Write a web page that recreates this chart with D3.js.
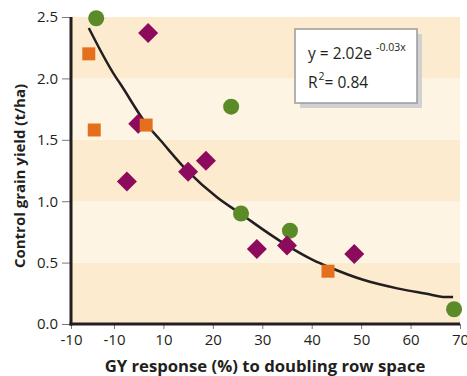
<!DOCTYPE html>
<html>
<head>
<meta charset="utf-8">
<script src="https://cdn.jsdelivr.net/npm/d3@7"></script>
<style>
body { margin: 0; background: #fff; }
svg text { font-family: "Open Sans", "Noto Sans", sans-serif; fill: #231f20; }
.tick-label { font-size: 15px; }
.axis-title { font-weight: bold; }
.eq { font-size: 15.5px; }
</style>
</head>
<body>
<div id="chart"></div>
<script>
// series
var green_x = [-3.6, 23.7, 25.7, 35.6, 68.8],
	green_y = [2.49, 1.77, 0.90, 0.76, 0.12];

var orange_x = [-5.1, -4.0, 6.5, 43.3],
	orange_y = [2.20, 1.58, 1.62, 0.43];

var purple_x = [6.9, 4.9, 2.6, 15.0, 18.6, 28.9, 35.0, 48.6],
	purple_y = [2.37, 1.63, 1.16, 1.24, 1.33, 0.61, 0.64, 0.57];

var fit_x = [-5.1, 0.2, 1.2, 6.7, 9.3, 15.0, 20.9, 25.9, 31.2, 35.0, 40.3, 43.7, 50.4, 57.3, 64.0, 66.6, 68.6],
	fit_y = [2.41, 2.02, 1.96, 1.62, 1.50, 1.24, 1.03, 0.89, 0.74, 0.64, 0.52, 0.46, 0.36, 0.29, 0.24, 0.22, 0.22];

var x_tick_vals = [-8.7, 0, 10, 20, 30, 40, 50, 60, 70],
	x_tick_labels = ["-10", "-10", "10", "20", "30", "40", "50", "60", "70"];

var y_tick_vals = [0, 0.5, 1.0, 1.5, 2.0, 2.5];
var bands = [0, 0.5, 1.0, 1.5, 2.0];

(function(){

var width = 467, height = 376;
var m_left = 71, m_right = 460, m_top = 17, m_bottom = 324;

var svg = d3.select("#chart").append("svg")
		.attr("width", width)
		.attr("height", height);

var x = d3.scaleLinear()
		.domain([-8.7, 70])
		.range([m_left, m_right]);

var y = d3.scaleLinear()
		.domain([0, 2.5])
		.range([m_bottom, m_top]);

// background bands
svg.selectAll(".band")
		.data(bands)
	.enter().append("rect")
		.attr("class", "band")
		.attr("x", m_left)
		.attr("width", m_right - m_left)
		.attr("y", function(d){ return y(d + 0.5); })
		.attr("height", function(d){ return y(d) - y(d + 0.5); })
		.attr("fill", function(d, i){ return i % 2 == 0 ? "#fdebcf" : "#fef4e3"; });

// x axis
var x_axis = d3.axisBottom(x)
		.tickValues(x_tick_vals)
		.tickSize(5)
		.tickFormat(function(d, i){ return x_tick_labels[i]; });

var gx = svg.append("g")
		.attr("transform", "translate(0," + m_bottom + ")")
		.call(x_axis);
gx.attr("font-size", null).attr("font-family", null);
gx.select(".domain").remove();
gx.selectAll(".tick line").attr("stroke", "#777");
gx.selectAll(".tick text")
		.attr("class", "tick-label")
		.attr("y", 9)
		.attr("dy", "0.8em");

// y axis
var y_axis = d3.axisLeft(y)
		.tickValues(y_tick_vals)
		.tickSize(9)
		.tickFormat(d3.format(".1f"));

var gy = svg.append("g")
		.attr("transform", "translate(" + m_left + ",0)")
		.call(y_axis);
gy.attr("font-size", null).attr("font-family", null);
gy.select(".domain").remove();
gy.selectAll(".tick line").attr("stroke", "#777");
gy.selectAll(".tick text")
		.attr("class", "tick-label")
		.attr("x", -13);

// axis lines
svg.append("line")
		.attr("x1", m_left).attr("x2", m_left)
		.attr("y1", m_top).attr("y2", m_bottom + 1.5)
		.attr("stroke", "#231f20")
		.attr("stroke-width", 3);
svg.append("line")
		.attr("x1", m_left - 1.5).attr("x2", m_right)
		.attr("y1", m_bottom).attr("y2", m_bottom)
		.attr("stroke", "#231f20")
		.attr("stroke-width", 3);

// fitted curve
var line = d3.line()
		.x(function(d){ return x(d[0]); })
		.y(function(d){ return y(d[1]); })
		.curve(d3.curveMonotoneX);

svg.append("path")
		.datum(d3.zip(fit_x, fit_y))
		.attr("d", line)
		.attr("fill", "none")
		.attr("stroke", "#231f20")
		.attr("stroke-width", 2.5);

// points
svg.selectAll(".pt-green")
		.data(d3.zip(green_x, green_y))
	.enter().append("circle")
		.attr("class", "pt-green")
		.attr("cx", function(d){ return x(d[0]); })
		.attr("cy", function(d){ return y(d[1]); })
		.attr("r", 8)
		.attr("fill", "#5b8a28");

svg.selectAll(".pt-purple")
		.data(d3.zip(purple_x, purple_y))
	.enter().append("path")
		.attr("class", "pt-purple")
		.attr("d", d3.symbol(d3.symbolSquare, 200))
		.attr("transform", function(d){ return "translate(" + x(d[0]) + "," + y(d[1]) + ") rotate(45)"; })
		.attr("fill", "#8c0b5d");

svg.selectAll(".pt-orange")
		.data(d3.zip(orange_x, orange_y))
	.enter().append("rect")
		.attr("class", "pt-orange")
		.attr("x", function(d){ return x(d[0]) - 6.5; })
		.attr("y", function(d){ return y(d[1]) - 6.5; })
		.attr("width", 13)
		.attr("height", 13)
		.attr("fill", "#e4701e");

// equation box
var box = svg.append("g").attr("transform", "translate(295,29)");
box.append("rect")
		.attr("x", 5).attr("y", 5)
		.attr("width", 122).attr("height", 74)
		.attr("fill", "#d1d1d1");
box.append("rect")
		.attr("width", 122).attr("height", 74)
		.attr("fill", "#fff")
		.attr("stroke", "#9a9a9a")
		.attr("stroke-width", 1.5);

var eq1 = box.append("text").attr("class", "eq").attr("x", 13).attr("y", 30);
eq1.append("tspan").text("y = 2.02e");
eq1.append("tspan").attr("dx", 4).attr("dy", -8).attr("font-size", 10.5).text("-0.03x");

var eq2 = box.append("text").attr("class", "eq").attr("x", 13).attr("y", 59);
eq2.append("tspan").text("R");
eq2.append("tspan").attr("dx", 1).attr("dy", -8).attr("font-size", 10.5).text("2");
eq2.append("tspan").attr("dy", 8).text("= 0.84");

// axis titles
svg.append("text")
		.attr("class", "axis-title")
		.attr("x", 265)
		.attr("y", 372)
		.attr("font-size", 16.7)
		.attr("text-anchor", "middle")
		.text("GY response (%) to doubling row space");

svg.append("text")
		.attr("class", "axis-title")
		.attr("font-size", 15)
		.attr("transform", "translate(25,176) rotate(-90)")
		.attr("text-anchor", "middle")
		.text("Control grain yield (t/ha)");

})();
</script>
</body>
</html>
